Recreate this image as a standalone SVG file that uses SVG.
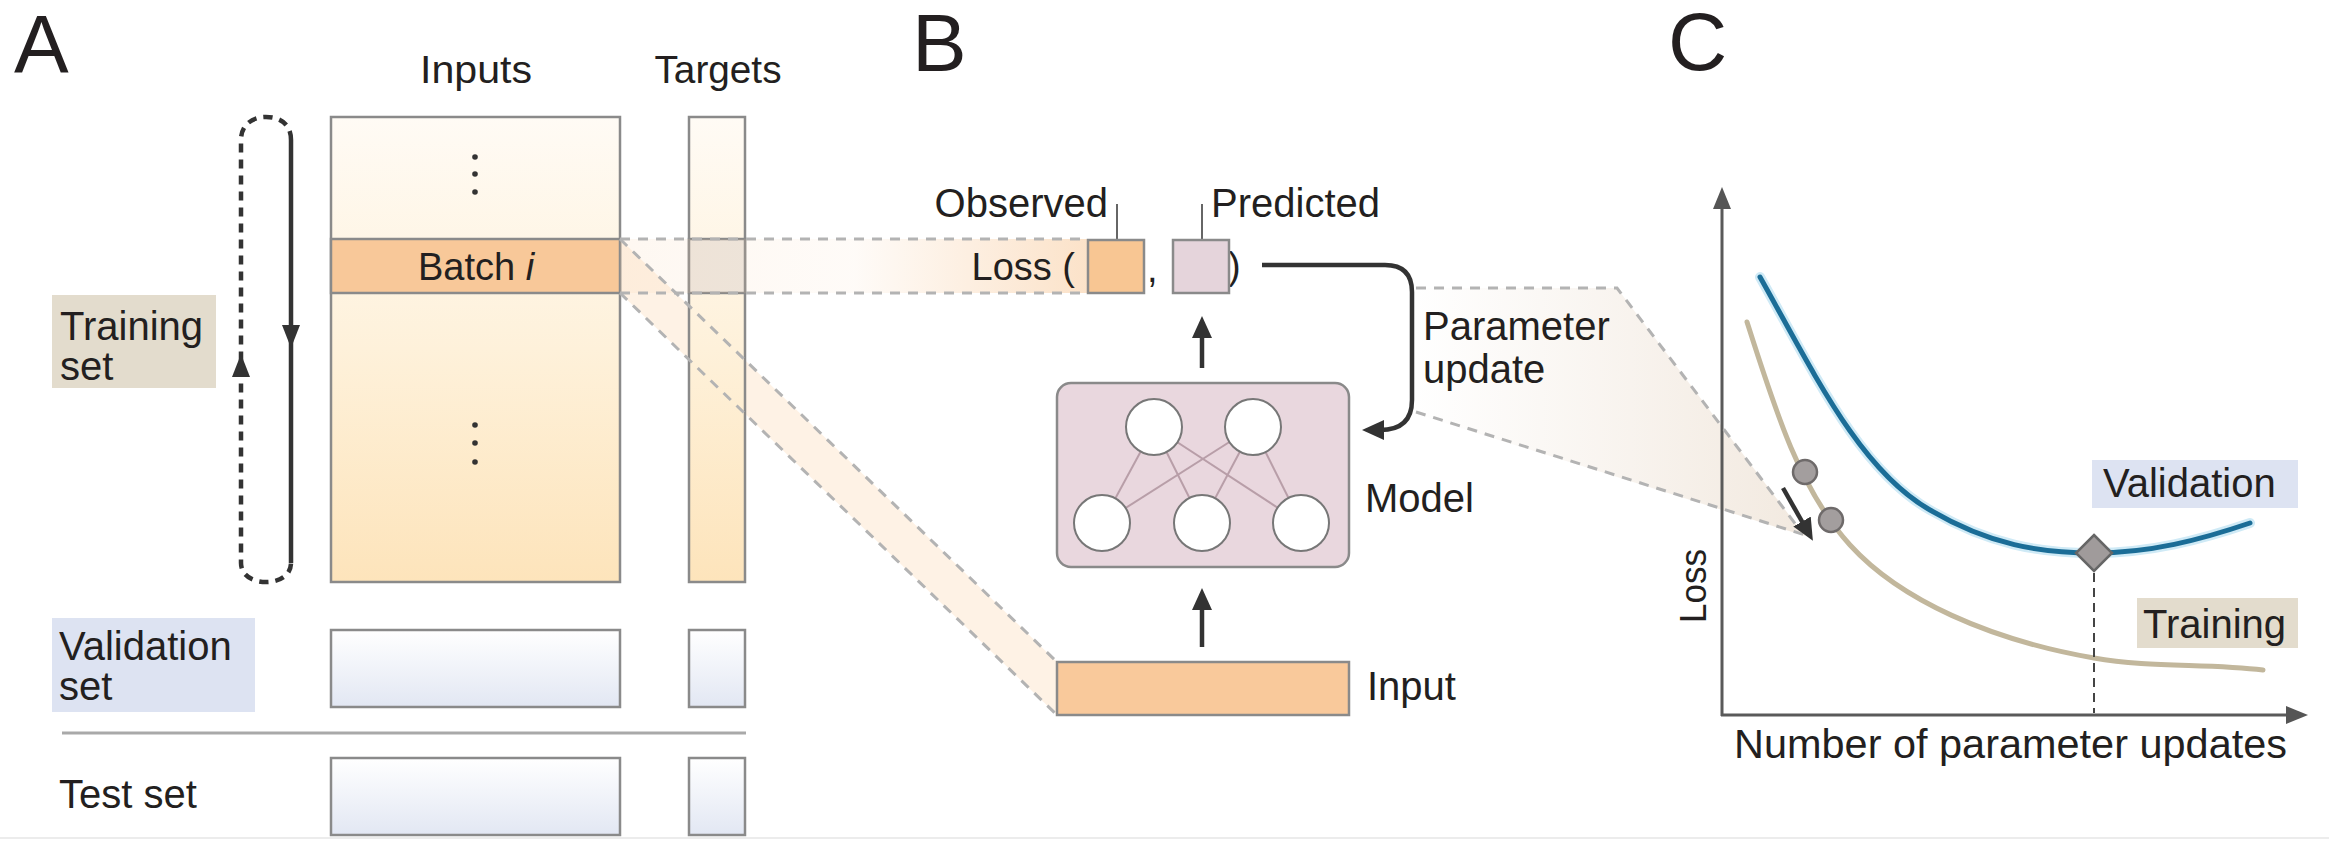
<svg xmlns="http://www.w3.org/2000/svg" width="2329" height="841" viewBox="0 0 2329 841">
<style>
text{font-family:"Liberation Sans",Arial,sans-serif;fill:#231f20}
.lbl{font-size:40px}
.big{font-size:82px}
.box{stroke:#8a8a8a;stroke-width:2.5}
.pdash{fill:none;stroke:#b3b3b3;stroke-width:3;stroke-dasharray:10 8}
.arr{fill:none;stroke:#333;stroke-width:4.5}
.loopd{fill:none;stroke:#333;stroke-width:4.5;stroke-dasharray:9 7}
.axis{fill:none;stroke:#5a5a5a;stroke-width:3}
.node{fill:#fff;stroke:#777;stroke-width:2}
.link{stroke:#b89ea8;stroke-width:2}
</style>
<defs>
<linearGradient id="gIn" x1="0" y1="0" x2="0" y2="1">
<stop offset="0" stop-color="#fffbf5"/><stop offset="0.5" stop-color="#fef1da"/><stop offset="1" stop-color="#fde4bb"/>
</linearGradient>
<linearGradient id="gVal" x1="0" y1="0" x2="0" y2="1">
<stop offset="0" stop-color="#ffffff"/><stop offset="1" stop-color="#e2e7f3"/>
</linearGradient>
<linearGradient id="gBand" gradientUnits="userSpaceOnUse" x1="620" y1="0" x2="1088" y2="0">
<stop offset="0" stop-color="#f9cfa5" stop-opacity="0.15"/><stop offset="0.5" stop-color="#f9cfa5" stop-opacity="0.08"/><stop offset="1" stop-color="#f9cfa5" stop-opacity="0.6"/>
</linearGradient>
<linearGradient id="gBC" gradientUnits="userSpaceOnUse" x1="1413" y1="0" x2="1800" y2="0">
<stop offset="0" stop-color="#efe4d8" stop-opacity="0"/><stop offset="0.45" stop-color="#efe4d8" stop-opacity="0.35"/><stop offset="1" stop-color="#efe4d8" stop-opacity="0.8"/>
</linearGradient>
<marker id="ah" markerUnits="userSpaceOnUse" viewBox="0 0 22 20" markerWidth="22" markerHeight="20" refX="4" refY="10" orient="auto">
<path d="M0,0 L22,10 L0,20 z" fill="#333"/>
</marker>
<marker id="ahg" markerUnits="userSpaceOnUse" viewBox="0 0 22 18" markerWidth="22" markerHeight="18" refX="4" refY="9" orient="auto">
<path d="M0,0 L22,9 L0,18 z" fill="#555"/>
</marker>
</defs>

<rect width="2329" height="841" fill="#fff"/>
<line x1="0" y1="838" x2="2329" y2="838" stroke="#ececec" stroke-width="2"/>

<!-- backgrounds of projection bands -->
<g id="bands">
<polygon points="620,239 1057,662 1057,715 620,293" fill="#fde9d4" fill-opacity="0.6"/>
<polygon points="1413,288 1617,288 1805,536 1413,413" fill="url(#gBC)"/>
</g>

<!-- Panel A -->
<g id="label-A"><text class="big" x="14" y="72">A</text></g>
<g id="header-inputs"><text x="476" y="83" font-size="38" text-anchor="middle" textLength="112" lengthAdjust="spacingAndGlyphs">Inputs</text></g>
<g id="header-targets"><text x="718" y="83" font-size="38" text-anchor="middle" textLength="127" lengthAdjust="spacingAndGlyphs">Targets</text></g>

<g id="training-inputs">
<rect class="box" x="331" y="117" width="289" height="465" fill="url(#gIn)"/>
<rect class="box" x="331" y="239" width="289" height="54" fill="#f8c899"/>
<g fill="#333"><circle cx="475" cy="157" r="2.8"/><circle cx="475" cy="174" r="2.8"/><circle cx="475" cy="192" r="2.8"/>
<circle cx="475" cy="425" r="2.8"/><circle cx="475" cy="443" r="2.8"/><circle cx="475" cy="462" r="2.8"/></g>
<text x="476" y="280" font-size="38" text-anchor="middle">Batch <tspan font-style="italic">i</tspan></text>
</g>
<g id="training-targets">
<rect class="box" x="689" y="117" width="56" height="465" fill="url(#gIn)"/>
<rect class="box" x="689" y="239" width="56" height="54" fill="#ece6df"/>
</g>
<g id="training-label">
<rect x="52" y="295" width="164" height="93" fill="#e3dccd"/>
<text class="lbl" x="60" y="340">Training</text>
<text class="lbl" x="60" y="380">set</text>
</g>
<g id="validation-label">
<rect x="52" y="618" width="203" height="94" fill="#dde3f2"/>
<text class="lbl" x="59" y="660">Validation</text>
<text class="lbl" x="59" y="700">set</text>
</g>
<g id="validation-inputs"><rect class="box" x="331" y="630" width="289" height="77" fill="url(#gVal)"/></g>
<g id="validation-targets"><rect class="box" x="689" y="630" width="56" height="77" fill="url(#gVal)"/></g>
<line x1="62" y1="733" x2="746" y2="733" stroke="#a9a9a9" stroke-width="3"/>
<g id="test-label"><text class="lbl" x="59" y="808">Test set</text></g>
<g id="test-inputs"><rect class="box" x="331" y="758" width="289" height="77" fill="url(#gVal)"/></g>
<g id="test-targets"><rect class="box" x="689" y="758" width="56" height="77" fill="url(#gVal)"/></g>

<rect x="620" y="239" width="468" height="54" fill="url(#gBand)"/>

<!-- Panel B -->
<g id="label-B"><text class="big" x="912" y="71">B</text></g>
<g id="loss-expr">
<text x="1075" y="280" font-size="38" text-anchor="end">Loss (</text>
<text x="1147" y="282" font-size="38">,</text>
<text x="1228" y="279" font-size="38">)</text>
</g>
<g id="observed">
<text class="lbl" x="1108" y="217" text-anchor="end">Observed</text>
<line x1="1117" y1="204" x2="1117" y2="240" stroke="#666" stroke-width="2"/>
<rect class="box" x="1088" y="240" width="56" height="53" fill="#f8c693"/>
</g>
<g id="predicted">
<text class="lbl" x="1211" y="217">Predicted</text>
<line x1="1202" y1="204" x2="1202" y2="240" stroke="#666" stroke-width="2"/>
<rect class="box" x="1173" y="240" width="56" height="53" fill="#e5d4db"/>
</g>
<g id="model">
<rect class="box" x="1057" y="383" width="292" height="184" rx="14" fill="#e9d7de"/>
<g class="link">
<line x1="1154" y1="427" x2="1102" y2="523"/><line x1="1154" y1="427" x2="1202" y2="523"/><line x1="1154" y1="427" x2="1301" y2="523"/>
<line x1="1253" y1="427" x2="1102" y2="523"/><line x1="1253" y1="427" x2="1202" y2="523"/><line x1="1253" y1="427" x2="1301" y2="523"/>
</g>
<circle class="node" cx="1154" cy="427" r="28"/><circle class="node" cx="1253" cy="427" r="28"/>
<circle class="node" cx="1102" cy="523" r="28"/><circle class="node" cx="1202" cy="523" r="28"/><circle class="node" cx="1301" cy="523" r="28"/>
<text class="lbl" x="1365" y="512">Model</text>
</g>
<g id="input">
<rect class="box" x="1057" y="662" width="292" height="53" fill="#f9c99b"/>
<text class="lbl" x="1367" y="700">Input</text>
</g>
<g id="param-label">
<text class="lbl" x="1423" y="340">Parameter</text>
<text class="lbl" x="1423" y="383">update</text>
</g>

<!-- Panel C -->
<g id="label-C"><text class="big" x="1668" y="70">C</text></g>
<g id="chart">
<path d="M1760,277 C1815,375 1860,470 1930,510 C1990,545 2040,553 2094,553 C2150,553 2200,540 2250,523" fill="none" stroke="#cfeaf6" stroke-width="10" stroke-linecap="round"/>
<path d="M1760,277 C1815,375 1860,470 1930,510 C1990,545 2040,553 2094,553 C2150,553 2200,540 2250,523" fill="none" stroke="#1b6d97" stroke-width="5" stroke-linecap="round"/>
<path d="M1747,322 C1775,410 1800,490 1850,545 C1900,600 1990,640 2094,658 C2150,668 2210,663 2263,670" fill="none" stroke="#c2b79c" stroke-width="5" stroke-linecap="round"/>
<line x1="2094" y1="573" x2="2094" y2="713" stroke="#444" stroke-width="2" stroke-dasharray="9 6"/>
<polygon points="2094,535 2112,553 2094,571 2076,553" fill="#a09b9b" stroke="#666" stroke-width="2.5"/>
<circle cx="1805" cy="472" r="12" fill="#a39e9e" stroke="#6e6a6a" stroke-width="2.5"/>
<circle cx="1831" cy="520" r="12" fill="#a39e9e" stroke="#6e6a6a" stroke-width="2.5"/>
<line class="axis" x1="1722" y1="716" x2="1722" y2="205" marker-end="url(#ahg)"/>
<line class="axis" x1="1721" y1="715" x2="2290" y2="715" marker-end="url(#ahg)"/>
<text transform="translate(1706,586) rotate(-90)" font-size="37" text-anchor="middle" textLength="74" lengthAdjust="spacingAndGlyphs">Loss</text>
<text x="1734" y="758" font-size="41" textLength="553" lengthAdjust="spacingAndGlyphs">Number of parameter updates</text>
</g>
<g id="validation-tag">
<rect x="2092" y="460" width="206" height="48" fill="#dde3f2"/>
<text class="lbl" x="2103" y="497">Validation</text>
</g>
<g id="training-tag">
<rect x="2137" y="598" width="161" height="50" fill="#e3dccd"/>
<text class="lbl" x="2143" y="638">Training</text>
</g>

<!-- connectors -->
<g id="connectors">
<path class="loopd" d="M291,140 C291,124 280,117 266,117 C252,117 241,125 241,140 V563 C241,575 252,582 266,582 C280,582 291,575 291,563"/>
<line x1="291" y1="140" x2="291" y2="563" stroke="#333" stroke-width="4.5"/>
<polygon points="282,325 300,325 291,348" fill="#333"/>
<polygon points="232,377 250,377 241,354" fill="#333"/>

<line class="pdash" x1="620" y1="239" x2="1088" y2="239"/>
<line class="pdash" x1="620" y1="293" x2="1088" y2="293"/>
<line class="pdash" x1="620" y1="239" x2="1057" y2="662"/>
<line class="pdash" x1="620" y1="293" x2="1057" y2="715"/>

<line class="arr" x1="1202" y1="647" x2="1202" y2="606" marker-end="url(#ah)"/>
<line class="arr" x1="1202" y1="368" x2="1202" y2="334" marker-end="url(#ah)"/>
<path class="arr" d="M1262,265 H1385 Q1412,265 1412,292 V400 Q1412,430 1380,430" marker-end="url(#ah)"/>

<polyline class="pdash" points="1416,288 1617,288 1800,530"/>
<line class="pdash" x1="1416" y1="412" x2="1805" y2="535"/>
<line class="arr" x1="1783" y1="488" x2="1804" y2="525" marker-end="url(#ah)"/>
</g>
</svg>
